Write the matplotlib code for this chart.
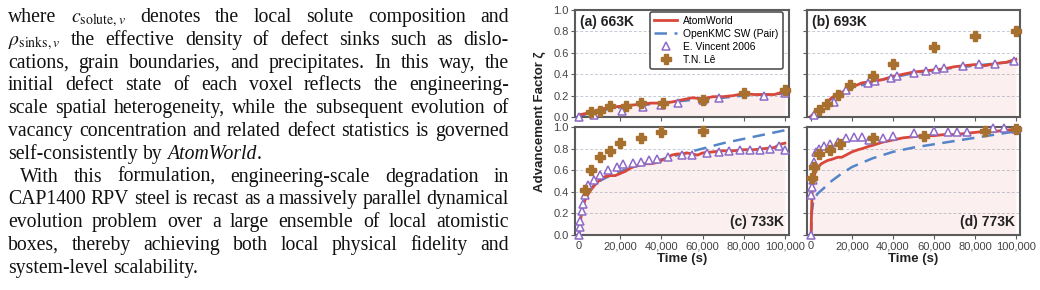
import matplotlib
matplotlib.use("Agg")
import matplotlib.pyplot as plt
import numpy as np
from matplotlib.ticker import FuncFormatter

W, H = 1040, 290

# ---- paper text (left column) ----
PARA_LINES = [
    "where $c_{\\mathrm{solute},v}$ denotes the local solute composition and",
    "$\\rho_{\\mathrm{sinks},v}$ the effective density of defect sinks such as dislo-",
    "cations, grain boundaries, and precipitates. In this way, the",
    "initial defect state of each voxel reflects the engineering-",
    "scale spatial heterogeneity, while the subsequent evolution of",
    "vacancy concentration and related defect statistics is governed",
    "self-consistently by *AtomWorld*.",
    "With this formulation, engineering-scale degradation in",
    "CAP1400 RPV steel is recast as a massively parallel dynamical",
    "evolution problem over a large ensemble of local atomistic",
    "boxes, thereby achieving both local physical fidelity and",
    "system-level scalability.",
]
JUSTIFY = [True, True, True, True, True, True, False, True, True, True, True, False]
INDENT = [0, 0, 0, 0, 0, 0, 0, 1, 0, 0, 0, 0]

# ---- chart data: time in 1000 s, advancement factor ----
PANELS = ["(a) 663K", "(b) 693K", "(c) 733K", "(d) 773K"]

aw_t_a = [0, 5, 10, 15, 20, 25, 30, 35, 40, 45, 50, 55, 60, 65, 70, 75, 80, 85, 90, 95, 100]
aw_a = [0.02, 0.04, 0.07, 0.09, 0.10, 0.11, 0.12, 0.13, 0.13, 0.14, 0.16, 0.18, 0.17, 0.19,
        0.19, 0.20, 0.22, 0.21, 0.21, 0.21, 0.24]
kmc_t_a = [0, 5, 10, 20, 30, 40, 50, 60, 70, 80, 90, 100]
kmc_a = [0.0, 0.04, 0.06, 0.09, 0.11, 0.13, 0.15, 0.17, 0.18, 0.20, 0.21, 0.22]
vin_t_a = [0, 7, 21, 31, 40, 48, 60, 68, 90, 100]
vin_a = [0.0, 0.02, 0.06, 0.09, 0.11, 0.13, 0.16, 0.18, 0.20, 0.22]
le_t_a = [6, 10, 15, 23, 30, 41, 60, 80, 100]
le_a = [0.05, 0.06, 0.10, 0.10, 0.13, 0.13, 0.16, 0.22, 0.25]

aw_t_b = [0, 2.5, 5, 7.5, 10, 12.5, 15, 20, 25, 30, 35, 40, 45, 50, 55, 60, 65, 70, 75, 80,
          85, 90, 95, 100]
aw_b = [0.01, 0.05, 0.09, 0.13, 0.18, 0.21, 0.23, 0.28, 0.32, 0.33, 0.35, 0.38, 0.40, 0.42,
        0.43, 0.44, 0.45, 0.47, 0.48, 0.49, 0.48, 0.50, 0.51, 0.54]
kmc_t_b = [0, 2, 5, 10, 15, 20, 30, 40, 50, 60, 70, 80, 90, 100]
kmc_b = [0.0, 0.05, 0.10, 0.17, 0.23, 0.27, 0.33, 0.37, 0.41, 0.44, 0.46, 0.48, 0.50, 0.52]
vin_t_b = [1.5, 11, 17, 28, 31, 39, 42, 50, 56, 61, 65, 74, 82, 90, 99]
vin_b = [0.02, 0.14, 0.25, 0.32, 0.34, 0.36, 0.38, 0.41, 0.43, 0.45, 0.46, 0.48, 0.50, 0.50, 0.52]
le_t_b = [4, 8, 13, 19, 30, 40, 60, 80, 100]
le_b = [0.07, 0.12, 0.21, 0.30, 0.38, 0.50, 0.65, 0.76, 0.80]

aw_t_c = [0, 0.5, 1, 2, 3, 5, 7.5, 10, 12.5, 15, 17.5, 20, 22.5, 25, 27.5, 30, 32.5, 35, 37.5,
          40, 42.5, 45, 47.5, 50, 52.5, 55, 57.5, 60, 65, 70, 75, 80, 85, 90, 95, 97.5, 100]
aw_c = [0.0, 0.10, 0.18, 0.27, 0.33, 0.40, 0.46, 0.51, 0.54, 0.55, 0.55, 0.57, 0.59, 0.62,
        0.64, 0.65, 0.66, 0.66, 0.67, 0.69, 0.71, 0.74, 0.75, 0.75, 0.76, 0.75, 0.74, 0.76,
        0.77, 0.78, 0.78, 0.79, 0.79, 0.80, 0.81, 0.84, 0.85]
kmc_t_c = [0, 1, 2, 4, 6, 10, 15, 20, 30, 40, 50, 60, 70, 80, 90, 100]
kmc_c = [0.0, 0.20, 0.30, 0.38, 0.44, 0.50, 0.55, 0.59, 0.65, 0.70, 0.75, 0.80, 0.85, 0.89,
         0.93, 0.97]
vin_t_c = [0, 0.3, 0.6, 1.2, 1.8, 2.8, 4.5, 7, 10, 14, 18.5, 21.5, 26, 30, 34, 38, 43, 50, 55,
           62, 68, 73, 78, 83, 88, 93, 97, 100]
vin_c = [0.0, 0.07, 0.13, 0.22, 0.29, 0.37, 0.46, 0.51, 0.56, 0.60, 0.63, 0.66, 0.67, 0.68,
         0.69, 0.70, 0.72, 0.74, 0.74, 0.76, 0.77, 0.78, 0.79, 0.79, 0.79, 0.80, 0.82, 0.79]
le_t_c = [3, 6, 10, 15, 20, 30, 40, 60]
le_c = [0.42, 0.60, 0.72, 0.78, 0.85, 0.90, 0.95, 0.96]

aw_t_d = [0, 0.2, 0.5, 1, 2, 3.5, 5, 8, 10, 13, 15, 18, 20, 23, 25, 28, 30, 35, 40, 45, 50,
          55, 60, 65, 70, 75, 80, 85, 90, 95, 100]
aw_d = [0.0, 0.20, 0.40, 0.50, 0.58, 0.63, 0.66, 0.69, 0.70, 0.72, 0.72, 0.75, 0.77, 0.79,
        0.80, 0.82, 0.83, 0.86, 0.88, 0.90, 0.91, 0.92, 0.92, 0.93, 0.93, 0.94, 0.95, 0.96,
        0.96, 0.97, 0.98]
kmc_t_d = [0, 0.3, 1, 3, 6, 10, 15, 20, 25, 30, 40, 50, 60, 70, 80, 90, 100]
kmc_d = [0.0, 0.20, 0.30, 0.38, 0.43, 0.50, 0.57, 0.63, 0.67, 0.71, 0.77, 0.81, 0.84, 0.87,
         0.90, 0.93, 0.96]
vin_t_d = [0, 0.1, 0.3, 0.8, 1.5, 2.5, 4, 6.5, 9, 13, 17, 21, 25, 28.5, 35, 40, 50, 60, 67,
           71, 76, 89, 94, 100]
vin_d = [0.0, 0.37, 0.44, 0.51, 0.68, 0.77, 0.80, 0.82, 0.84, 0.86, 0.90, 0.91, 0.91, 0.88,
         0.90, 0.92, 0.94, 0.96, 0.95, 0.95, 0.95, 0.99, 0.99, 0.98]
le_t_d = [0.5, 1.5, 4, 9, 14, 30, 55, 85, 100]
le_d = [0.53, 0.63, 0.75, 0.79, 0.84, 0.90, 0.92, 0.96, 0.98]

SERIES = [
    (aw_t_a, aw_a, kmc_t_a, kmc_a, vin_t_a, vin_a, le_t_a, le_a),
    (aw_t_b, aw_b, kmc_t_b, kmc_b, vin_t_b, vin_b, le_t_b, le_b),
    (aw_t_c, aw_c, kmc_t_c, kmc_c, vin_t_c, vin_c, le_t_c, le_c),
    (aw_t_d, aw_d, kmc_t_d, kmc_d, vin_t_d, vin_d, le_t_d, le_d),
]

RED = "#d8473a"
BLUE = "#5485c8"
PURPLE = "#8d6ac8"
BROWN = "#a8702e"
SPINE = "#5b5b5b"

plt.rcParams["mathtext.fontset"] = "stix"
fig = plt.figure(figsize=(W / 100, H / 100), dpi=100)
renderer = fig.canvas.get_renderer()

# ---- justified paragraph ----
TEXT_FS = 14.2
x_left, x_right = 8, 509
space_px = 0.25 * TEXT_FS * 100 / 72


def make_word(word):
    if word.startswith("*"):
        end = word.index("*", 1)
        pieces = [(word[1:end], "italic"), (word[end + 1:], "normal")]
    else:
        pieces = [(word, "normal")]
    objs = []
    for txt, style in pieces:
        if not txt:
            continue
        objs.append(fig.text(0, 0, txt, fontsize=TEXT_FS, family="Liberation Serif",
                             style=style, va="baseline", ha="left", color="#111111"))
    return objs


for i, line in enumerate(PARA_LINES):
    y = 1 - (22 + i * 22.8) / H
    words = [make_word(w) for w in line.split(" ")]
    widths = [[o.get_window_extent(renderer).width for o in objs] for objs in words]
    x0 = x_left + (12 if INDENT[i] else 0)
    total = sum(sum(w) for w in widths)
    gap = (x_right - x0 - total) / (len(words) - 1) if JUSTIFY[i] else space_px
    x = x0
    for objs, ws in zip(words, widths):
        for o, w in zip(objs, ws):
            o.set_position((x / W, y))
            x += w
        x += gap

# ---- chart ----
boxes = [(575, 789, 10, 117), (807, 1020, 10, 117), (575, 789, 127, 235), (807, 1020, 127, 235)]
fmt = FuncFormatter(lambda v, p: f"{int(v):,}")
for k, (l, r, t, b) in enumerate(boxes):
    ax = fig.add_axes([l / W, 1 - b / H, (r - l) / W, (b - t) / H])
    at, av, kt, kv, vt, vv, lt, lv = SERIES[k]
    at = np.array(at) * 1000
    ax.fill_between(at, 0, av, color=RED, alpha=0.08, lw=0, zorder=1)
    ax.plot(np.array(kt) * 1000, kv, color=BLUE, lw=1.8, ls=(0, (5, 3)), zorder=2,
            label="OpenKMC SW (Pair)")
    ax.plot(at, av, color=RED, lw=2.0, zorder=3, label="AtomWorld")
    ax.plot(np.array(vt) * 1000, vv, ls="none", marker="^", ms=6.2, mfc="white", mec=PURPLE,
            mew=1.1, zorder=4, clip_on=False, label="E. Vincent 2006")
    ax.plot(np.array(lt) * 1000, lv, ls="none", marker="P", ms=6.6, color=BROWN, mec=BROWN,
            zorder=5, clip_on=False, label="T.N. Lê")
    ax.set_xlim(-2000, 102000)
    ax.set_ylim(0, 1.0)
    ax.set_xticks([0, 20000, 40000, 60000, 80000, 100000])
    ax.set_yticks([0, 0.2, 0.4, 0.6, 0.8, 1.0])
    ax.xaxis.set_major_formatter(fmt)
    ax.yaxis.grid(True, ls=(0, (3, 2)), color="#c3cbd8", lw=0.7)
    ax.set_axisbelow(True)
    for s in ax.spines.values():
        s.set_color(SPINE)
        s.set_linewidth(1.5)
    ax.tick_params(length=3, width=0.8, color=SPINE, labelcolor="#444444", labelsize=8,
                   pad=1.5)
    for lab in ax.get_xticklabels() + ax.get_yticklabels():
        lab.set_family("Liberation Sans")
    if k < 2:
        ax.tick_params(labelbottom=False)
        ax.text(0.025, 0.955, PANELS[k], transform=ax.transAxes, ha="left", va="top",
                fontsize=10, fontweight="bold", family="Liberation Sans", color="#222222")
    else:
        ax.set_xlabel("Time (s)", fontsize=9.5, fontweight="bold", family="Liberation Sans",
                      color="#222222", labelpad=1)
        ax.text(0.975, 0.083, PANELS[k], transform=ax.transAxes, ha="right", va="baseline",
                fontsize=10, fontweight="bold", family="Liberation Sans", color="#222222")
    if k % 2 == 1:
        ax.tick_params(labelleft=False)
    if k == 0:
        h, lb = ax.get_legend_handles_labels()
        order = [1, 0, 2, 3]
        leg = ax.legend([h[j] for j in order], [lb[j] for j in order], loc="upper right",
                        bbox_to_anchor=(0.97, 0.985), borderaxespad=0,
                        prop={"family": "Liberation Sans", "size": 7.4}, frameon=True,
                        fancybox=True, framealpha=1, edgecolor="#444444", handlelength=2.2,
                        labelspacing=0.3, borderpad=0.4, handletextpad=0.6)
        leg.get_frame().set_linewidth(1.1)
        leg.set_zorder(10)

fig.text(540 / W, 1 - 122 / H, "Advancement Factor ζ", rotation=90, ha="center", va="center",
         fontsize=9.5, fontweight="bold", family="Liberation Sans", color="#222222")

fig.savefig("out.png", dpi=100)
